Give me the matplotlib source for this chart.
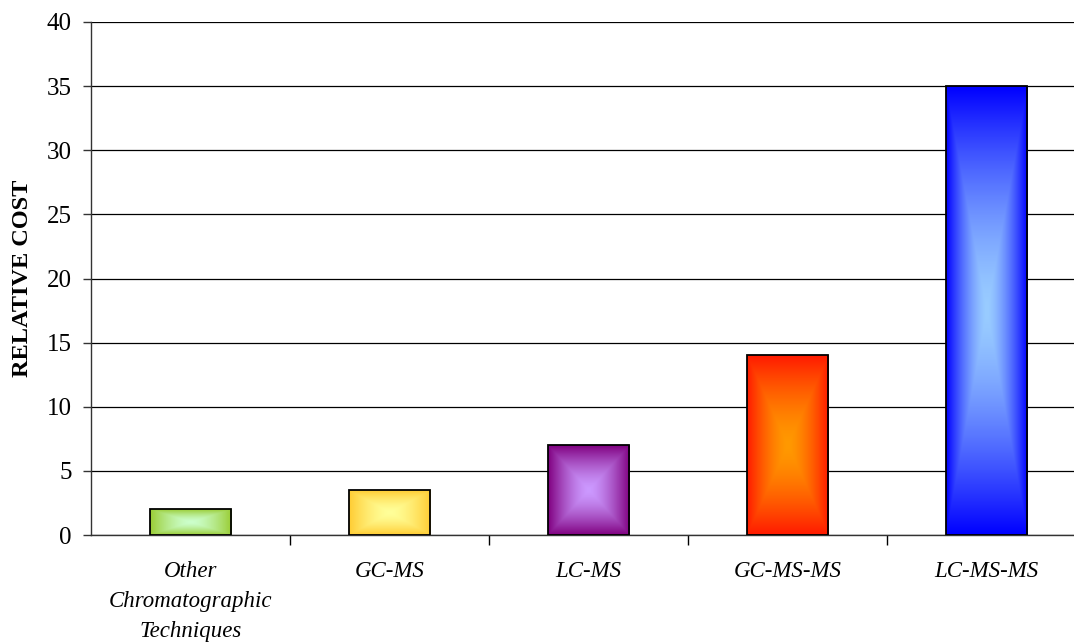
import numpy as np
import matplotlib
matplotlib.use("Agg")
import matplotlib.pyplot as plt
from matplotlib.colors import LinearSegmentedColormap

categories = ["Other\nChromatographic\nTechniques", "GC-MS", "LC-MS", "GC-MS-MS", "LC-MS-MS"]
values = [2, 3.5, 7, 14, 35]
edge_colors = ["#99CC33", "#FFCC33", "#800080", "#FF1A00", "#0000FF"]
center_colors = ["#CCFFCC", "#FFFF99", "#CC99FF", "#FF9900", "#99CCFF"]
yticks = [0, 5, 10, 15, 20, 25, 30, 35, 40]

plt.rcParams['font.family'] = ['Liberation Serif', 'DejaVu Serif']

fig = plt.figure(figsize=(10.74, 6.43), dpi=100)
W, H = 1074, 643
ax = fig.add_axes([91 / W, (H - 535) / H, (1086 - 91) / W, (535 - 22) / H])

x = np.arange(len(categories))
bars = ax.bar(x, values, width=0.41, facecolor="none", edgecolor="black",
              linewidth=1.3, zorder=4)

# rectangular "from center" gradient fill
n = 300
u = np.linspace(-1, 1, n)
U, V = np.meshgrid(u, u)
T = np.maximum(np.abs(U), np.abs(V)) ** 1.5
for b, ec, cc in zip(bars, edge_colors, center_colors):
    cmap = LinearSegmentedColormap.from_list("g", [cc, ec])
    x0, y0, w, h = b.get_x(), b.get_y(), b.get_width(), b.get_height()
    im = ax.imshow(T, cmap=cmap, extent=[x0, x0 + w, y0, y0 + h], origin="lower",
                   aspect="auto", zorder=3, interpolation="bilinear", vmin=0, vmax=1)
    im.set_clip_path(b)

ax.set_xlim(-0.5, len(categories) - 0.5)
ax.set_ylim(0, 40)
ax.set_yticks(yticks)
ax.set_yticklabels([str(t) for t in yticks], fontsize=18)
ax.yaxis.grid(True, color="black", linewidth=0.9, zorder=0)
ax.set_axisbelow(True)

ax.set_xticks(x)
ax.set_xticklabels(categories, fontsize=16.5, style="italic", linespacing=1.58)
ax.tick_params(axis="x", which="major", length=0, pad=18.5)
ax.set_xticks(np.arange(0.5, len(categories) - 0.5, 1), minor=True)
ax.tick_params(axis="x", which="minor", length=7, width=1, color="black")
ax.tick_params(axis="y", length=6, width=1, color="#333333", pad=8)

for s in ["top", "right"]:
    ax.spines[s].set_visible(False)
ax.spines["left"].set_color("#333333")
ax.spines["bottom"].set_color("#333333")
ax.spines["left"].set_linewidth(1)
ax.spines["bottom"].set_linewidth(1)

ax.set_ylabel("RELATIVE COST", fontsize=17.5, fontweight="bold")
ax.yaxis.set_label_coords(-(91 - 33) / (1086 - 91), 0.5)

fig.savefig("out.png", dpi=100)
